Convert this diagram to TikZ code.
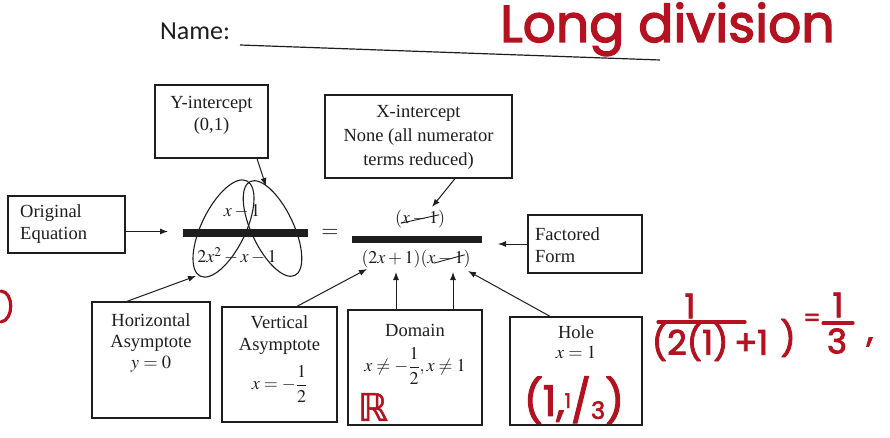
\documentclass[tikz,border=0pt]{standalone}
\usepackage{amsmath}
\usepackage{mathptmx}
\usepackage{amssymb}
\usepackage{fontspec}
\setmainfont{Liberation Serif}
\newfontfamily\hand[FakeBold=2.5]{Poppins}
\newfontfamily\reals[FakeBold=1.5]{DejaVu Sans}
\newfontfamily\namefont{Carlito}
\usetikzlibrary{arrows.meta}
\definecolor{ink}{RGB}{30,30,30}
\definecolor{redink}{RGB}{180,18,32}
\tikzset{
  box/.style={draw=ink, line width=1.3pt, inner sep=0pt},
  txt/.style={font=\fontsize{18.5}{22}\selectfont, align=center, inner sep=0pt, text=ink},
  eqn/.style={font=\fontsize{18}{22}\selectfont, inner sep=0pt, text=ink},
  arr/.style={-{Latex[length=8pt,width=6pt]}, line width=1pt, draw=ink},
  handw/.style={text=redink, inner sep=0pt, font=\hand\fontsize{34}{34}\selectfont},
  redline/.style={draw=redink, line width=3.2pt, line cap=round},
  bar/.style={fill=ink, inner sep=0pt},
  loop/.style={draw=ink, line width=1.1pt},
  strike/.style={draw=ink, line width=0.9pt}
}
\begin{document}
\begin{tikzpicture}[x=1pt,y=1pt]
\useasboundingbox (0,0) rectangle (890,-438);
\fill[white] (0,0) rectangle (890,-438);

% header
\node[anchor=base west, inner sep=0pt, text=ink, font=\namefont\fontsize{26}{26}\selectfont] (name) at (160,-40) {Name:};
\coordinate (ul1) at (240,-45);
\coordinate (ul2) at (660,-60);
\draw[ink, line width=1.2pt] (ul1) -- (ul2);
\node[handw, anchor=base west, font=\hand\fontsize{52}{52}\selectfont] (title) at (500,-42) {Long division};

% top boxes
\node[box, minimum width=113pt, minimum height=73pt] (yi) at (211.5,-121.5) {};
\node[txt] (yit) at (211.5,-115) {Y-intercept\\(0,1)};
\node[box, minimum width=187pt, minimum height=83pt] (xi) at (418.5,-136.5) {};
\node[txt, font=\fontsize{18.5}{24}\selectfont] (xit) at (418.5,-137) {X-intercept\\None (all numerator\\terms reduced)};

% side boxes
\node[box, minimum width=117pt, minimum height=57pt] (oe) at (66.5,-224.5) {};
\node[txt, align=left, anchor=west] (oet) at (20,-224) {Original\\Equation};
\node[box, minimum width=114pt, minimum height=58pt] (ff) at (585,-244) {};
\node[txt, align=left, anchor=west] (fft) at (535,-245) {Factored\\Form};

% bottom boxes
\node[box, minimum width=118pt, minimum height=116pt] (ha) at (151,-360) {};
\node[txt, anchor=north, font=\fontsize{18.5}{21}\selectfont] (hat) at (151,-313) {Horizontal\\Asymptote\\$y=0$};
\node[box, minimum width=115pt, minimum height=115pt] (va) at (279.5,-364.5) {};
\node[txt, anchor=north] (vat) at (279.5,-315) {Vertical\\Asymptote};
\node[eqn] (vam) at (279.5,-384) {$x=-\dfrac{1}{2}$};
\node[box, minimum width=134pt, minimum height=115pt] (dom) at (415,-367.5) {};
\node[txt] (domt) at (415,-330) {Domain};
\node[eqn] (domm) at (415,-366) {$x\neq-\dfrac{1}{2},x\neq1$};
\node[box, minimum width=132pt, minimum height=108pt] (hole) at (576,-371) {};
\node[txt, anchor=north, font=\fontsize{18.5}{20}\selectfont] (holet) at (576,-325) {Hole\\$x=1$};

% equation
\node[eqn] (n1) at (242,-211) {$x-1$};
\node[bar, minimum width=125pt, minimum height=8pt] (bar1) at (245.5,-233) {};
\node[eqn] (d1) at (237,-256) {$2x^2-x-1$};
\node[eqn, font=\fontsize{22}{22}\selectfont] (eqs) at (330,-233) {$=$};
\node[bar, minimum width=130pt, minimum height=7pt] (bar2) at (417,-239.5) {};
\node[eqn] (n2) at (420,-219) {$(x-1)$};
\node[eqn] (d2) at (416,-259) {$(2x+1)(x-1)$};
\draw[strike] ([xshift=6pt,yshift=5pt]n2.south west) -- ([xshift=-6pt,yshift=-5pt]n2.north east);
\draw[strike] ([xshift=-37pt,yshift=5pt]d2.south east) -- ([xshift=-6pt,yshift=-5pt]d2.north east);

% loops
\draw[loop, rotate around={64:(223.5,-228.5)}] (223.5,-228.5) ellipse [x radius=53pt, y radius=22pt];
\draw[loop, rotate around={115.4:(272.5,-228.5)}] (272.5,-228.5) ellipse [x radius=52pt, y radius=21pt];

% arrow targets
\coordinate (oetip) at (168,-231.5);
\coordinate (fftip) at (498,-244);
\coordinate (yitip) at (266,-186);
\coordinate (xitip) at (432,-207);
\coordinate (hatip) at (196,-276);
\coordinate (vatip) at (367,-269);
\coordinate (domtipA) at (396,-272);
\coordinate (domtipB) at (453,-272);
\coordinate (holetip) at (468,-271);

\draw[arr] ([yshift=-7pt]oe.east) -- (oetip);
\draw[arr] (ff.west) -- (fftip);
\draw[arr] ([xshift=45.5pt]yi.south) -- (yitip);
\draw[arr] ([xshift=36.5pt]xi.south) -- (xitip);
\draw[arr] ([xshift=-24pt]ha.north) -- (hatip);
\draw[arr] ([xshift=17.5pt]va.north) -- (vatip);
\draw[arr] ([xshift=-19pt]dom.north) -- (domtipA);
\draw[arr] ([xshift=38pt]dom.north) -- (domtipB);
\draw[arr] ([xshift=-26pt]hole.north) -- (holetip);

% red handwriting
\node[handw, font=\reals\fontsize{38}{38}\selectfont] (realsym) at (373,-407) {ℝ};
\node[handw, font=\hand\fontsize{42}{42}\selectfont] (holept) at (574,-400) {(1,\raisebox{8pt}{\fontsize{20}{20}\selectfont 1}/\raisebox{-3pt}{\fontsize{24}{24}\selectfont 3})};
\node[handw] (rn1) at (690,-306) {1};
\coordinate (rb1a) at (658,-322);
\coordinate (rb1b) at (745,-322);
\draw[redline] (rb1a) -- (rb1b);
\node[handw] (rd1) at (710,-342) {(2(1)\,+1};
\node[handw] (rpar) at (788,-338) {)};
\node[handw, font=\hand\fontsize{24}{24}\selectfont] (reqs) at (812,-320) {=};
\node[handw] (rn2) at (838,-305) {1};
\coordinate (rb2a) at (823,-323);
\coordinate (rb2b) at (853,-323);
\draw[redline] (rb2a) -- (rb2b);
\node[handw] (rd2) at (837,-341) {3};
\node[handw] (rcomma) at (870,-342) {,};
\coordinate (z1) at (1,-291);
\coordinate (z2) at (1,-322);
\draw[redline] (z1) .. controls (14,-292) and (14,-320) .. (z2);
\end{tikzpicture}
\end{document}
